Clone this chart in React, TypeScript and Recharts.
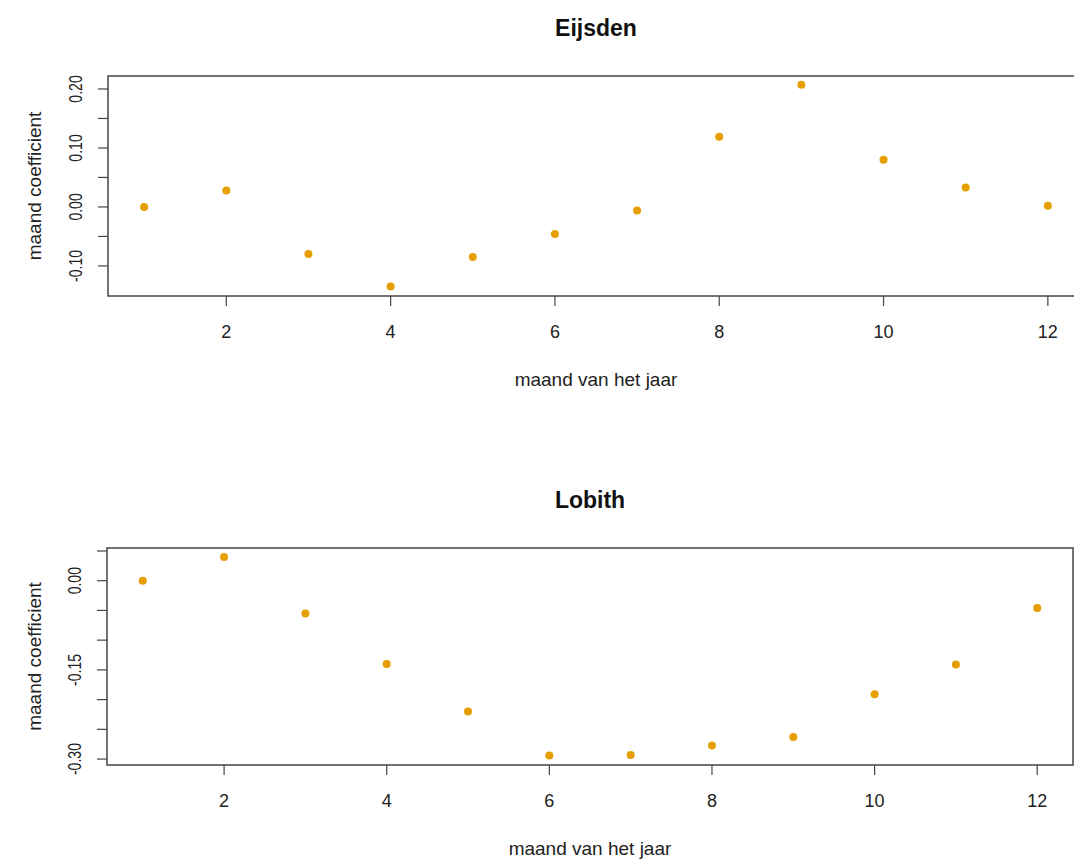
import React from "react";
import {
  Label,
  ReferenceArea,
  Scatter,
  ScatterChart,
  XAxis,
  YAxis,
} from "recharts";

const months = [1, 2, 3, 4, 5, 6, 7, 8, 9, 10, 11, 12];
const eijsden = [0.0, 0.028, -0.08, -0.135, -0.085, -0.046, -0.006, 0.119, 0.207, 0.08, 0.033, 0.002];
const lobith = [0.0, 0.04, -0.055, -0.14, -0.22, -0.294, -0.293, -0.277, -0.263, -0.191, -0.141, -0.046];

const xTicks = [2, 4, 6, 8, 10, 12];
const eijsdenTicks = [-0.1, -0.05, 0, 0.05, 0.1, 0.15, 0.2];
const eijsdenLabels = [-0.1, 0, 0.1, 0.2];
const lobithTicks = [-0.3, -0.25, -0.2, -0.15, -0.1, -0.05, 0, 0.05];
const lobithLabels = [-0.3, -0.15, 0];

const FONT = '"Liberation Sans", Arial, sans-serif';
const INK = "#222";
const BOX = "#444";
const DOT = "#E69F00";
const X_DOMAIN: [number, number] = [0.56, 12.44];

function XTick({ x, y, payload }: any) {
  return (
    <text x={x} y={y + 30} textAnchor="middle" fontFamily={FONT} fontSize={18} fill={INK}>
      {payload.value}
    </text>
  );
}

function makeYTick(labels: number[]) {
  return function YTick({ x, y, payload }: any) {
    const show = labels.some((l) => Math.abs(l - payload.value) < 1e-6);
    if (!show) return <g />;
    return (
      <text
        transform={`translate(${x - 14},${y}) rotate(-90) scale(0.74,1)`}
        textAnchor="middle"
        fontFamily={FONT}
        fontSize={19}
        fill={INK}
      >
        {payload.value.toFixed(2)}
      </text>
    );
  };
}

const dot = (p: any) => <circle cx={p.cx} cy={p.cy} r={4} fill={DOT} />;

interface PanelProps {
  title: string;
  values: number[];
  yDomain: [number, number];
  yTicks: number[];
  yLabels: number[];
  width: number;
  height: number;
  top: number;
  right: number;
  yAxisWidth: number;
  plotHeight: number;
}

function Panel(props: PanelProps) {
  const { title, values, yDomain, yTicks, yLabels, width, height, top, right, yAxisWidth, plotHeight } = props;
  const data = months.map((m, i) => ({ month: m, coef: values[i] }));
  const YTick = makeYTick(yLabels);
  return (
    <ScatterChart
      width={width}
      height={height}
      margin={{ top, right, bottom: 0, left: 0 }}
    >
      <XAxis
        type="number"
        dataKey="month"
        domain={X_DOMAIN}
        ticks={xTicks}
        allowDataOverflow
        axisLine={false}
        tickLine={{ stroke: BOX, strokeWidth: 1.2 }}
        tickSize={10}
        tick={<XTick />}
        height={height - top - plotHeight}
      >
        <Label
          content={({ viewBox }: any) => (
            <text
              x={viewBox.x + viewBox.width / 2}
              y={viewBox.y + 90}
              textAnchor="middle"
              fontFamily={FONT}
              fontSize={19}
              fill={INK}
            >
              maand van het jaar
            </text>
          )}
        />
      </XAxis>
      <YAxis
        type="number"
        dataKey="coef"
        domain={yDomain}
        ticks={yTicks}
        allowDataOverflow
        axisLine={false}
        tickLine={{ stroke: BOX, strokeWidth: 1.2 }}
        tickSize={10}
        tick={<YTick />}
        width={yAxisWidth}
      >
        <Label
          content={({ viewBox }: any) => (
            <text
              transform={`translate(41,${viewBox.y + viewBox.height / 2}) rotate(-90)`}
              textAnchor="middle"
              fontFamily={FONT}
              fontSize={19}
              fill={INK}
            >
              maand coefficient
            </text>
          )}
        />
      </YAxis>
      <ReferenceArea
        x1={X_DOMAIN[0]}
        x2={X_DOMAIN[1]}
        y1={yDomain[0]}
        y2={yDomain[1]}
        fill="none"
        fillOpacity={0}
        stroke={BOX}
        strokeWidth={1.5}
        ifOverflow="visible"
        label={{
          content: ({ viewBox }: any) => (
            <text
              x={viewBox.x + viewBox.width / 2}
              y={viewBox.y - 40}
              textAnchor="middle"
              fontFamily={FONT}
              fontSize={23}
              fontWeight="bold"
              fill="#111"
            >
              {title}
            </text>
          ),
        }}
      />
      <Scatter data={data} dataKey="coef" shape={dot} isAnimationActive={false} />
    </ScatterChart>
  );
}

export default function App() {
  return (
    <div
      style={{
        position: "fixed",
        left: 0,
        top: 0,
        width: 1074,
        height: 859,
        overflow: "hidden",
        background: "#fff",
      }}
    >
      <div style={{ position: "absolute", left: 0, top: 0 }}>
        <Panel
          title="Eijsden"
          values={eijsden}
          yDomain={[-0.151, 0.222]}
          yTicks={eijsdenTicks}
          yLabels={eijsdenLabels}
          width={1100}
          height={430}
          top={76}
          right={16}
          yAxisWidth={108}
          plotHeight={220}
        />
      </div>
      <div style={{ position: "absolute", left: 0, top: 430 }}>
        <Panel
          title="Lobith"
          values={lobith}
          yDomain={[-0.31, 0.055]}
          yTicks={lobithTicks}
          yLabels={lobithLabels}
          width={1074}
          height={429}
          top={118}
          right={1}
          yAxisWidth={107}
          plotHeight={217}
        />
      </div>
    </div>
  );
}
